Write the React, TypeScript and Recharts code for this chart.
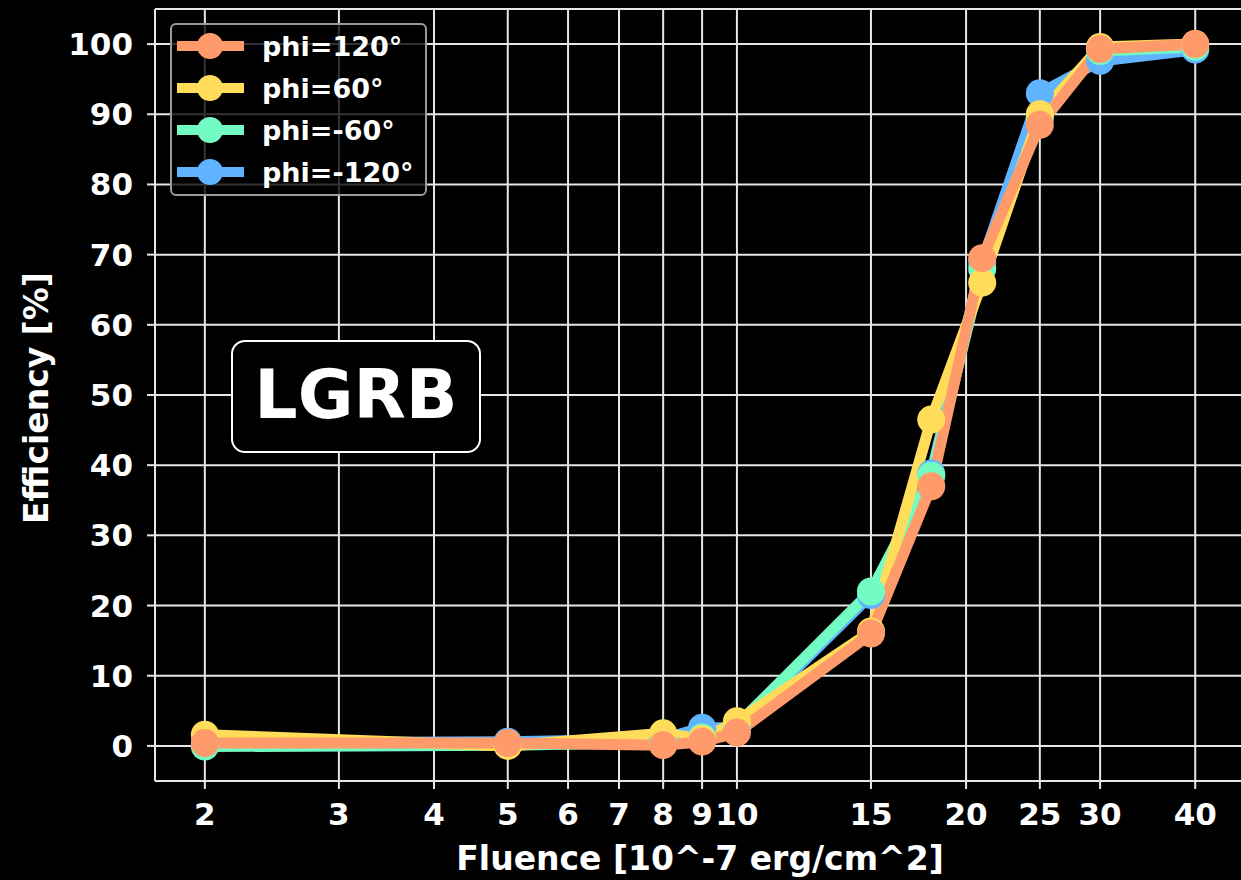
import React from 'react';
import {
  LineChart,
  Line,
  XAxis,
  YAxis,
  CartesianGrid,
  ReferenceLine
} from 'recharts';

// Fluence values (10^-7 erg/cm^2) and efficiency (%) per phi angle
const fluence = [2, 5, 8, 9, 10, 15, 18, 21, 25, 30, 40];
const phi120 = [0.4, 0.4, 0.1, 0.6, 1.9, 16.0, 37.0, 69.5, 88.5, 99.3, 100];
const phi60 = [1.6, 0.0, 1.8, 1.0, 3.5, 16.3, 46.5, 66.0, 90.0, 99.6, 100];
const phiM60 = [-0.1, 0.1, 0.5, 1.2, 3.0, 22.0, 38.5, 68.0, 89.5, 99.0, 99.6];
const phiM120 = [0.4, 0.6, 1.0, 2.6, 2.6, 21.5, 38.8, 69.0, 93.0, 97.6, 99.2];

const xTicks = [2, 3, 4, 5, 6, 7, 8, 9, 10, 15, 20, 25, 30, 40];
const yTicks = [0, 10, 20, 30, 40, 50, 60, 70, 80, 90, 100];

const XMIN = 1.72;
const XMAX = 46.5;

const FONT = "'DejaVu Sans', sans-serif";
const GRID = '#e6e6e6';

// legend order = plot order; drawn in reverse so orange lands on top
const SERIES = [
  { key: 'phi120', name: 'phi=120°', color: '#ff9a6a' },
  { key: 'phi60', name: 'phi=60°', color: '#ffdc5a' },
  { key: 'phiM60', name: 'phi=-60°', color: '#72fbc2' },
  { key: 'phiM120', name: 'phi=-120°', color: '#60b4ff' }
];

const data = fluence.map((f, i) => ({
  fluence: f,
  phi120: phi120[i],
  phi60: phi60[i],
  phiM60: phiM60[i],
  phiM120: phiM120[i]
}));

const tickStyle = { fill: '#fff', fontSize: 31, fontWeight: 'bold', fontFamily: FONT };

const XLabel = (props: any) => {
  const { viewBox } = props;
  return (
    <text
      x={viewBox.x + viewBox.width / 2}
      y={870}
      textAnchor="middle"
      fill="#fff"
      fontSize={33}
      fontWeight="bold"
      fontFamily={FONT}
    >
      Fluence [10^-7 erg/cm^2]
    </text>
  );
};

const YLabel = () => (
  <text
    x={48}
    y={398}
    transform="rotate(-90, 48, 398)"
    textAnchor="middle"
    fill="#fff"
    fontSize={33}
    fontWeight="bold"
    fontFamily={FONT}
  >
    Efficiency [%]
  </text>
);

const LegendBox = () => (
  <div
    style={{
      position: 'absolute',
      left: 170,
      top: 23,
      width: 253,
      height: 169,
      border: '2px solid #9a9a9a',
      borderRadius: 6,
      background: 'rgba(0,0,0,0.78)',
      fontFamily: FONT
    }}
  >
    {SERIES.map((s, i) => (
      <div
        key={s.key}
        style={{ position: 'absolute', left: 3, top: 4 + i * 42, height: 34, display: 'flex', alignItems: 'center' }}
      >
        <svg width={70} height={34}>
          <line x1={2} y1={17} x2={69} y2={17} stroke={s.color} strokeWidth={10} />
          <circle cx={35} cy={17} r={13} fill={s.color} />
        </svg>
        <span style={{ marginLeft: 17, color: '#fff', fontSize: 27, fontWeight: 'bold', whiteSpace: 'nowrap' }}>
          {s.name}
        </span>
      </div>
    ))}
  </div>
);

const TagBox = () => (
  <div
    style={{
      position: 'absolute',
      left: 231,
      top: 340,
      width: 246,
      height: 105,
      border: '2px solid #fff',
      borderRadius: 14,
      background: '#000',
      color: '#fff',
      fontFamily: FONT,
      fontWeight: 'bold',
      fontSize: 68,
      display: 'flex',
      alignItems: 'center',
      justifyContent: 'center',
      paddingBottom: 4,
      boxSizing: 'content-box'
    }}
  >
    LGRB
  </div>
);

export default function App() {
  return (
    <div
      style={{
        position: 'absolute',
        left: 0,
        top: 0,
        width: 1241,
        height: 880,
        background: '#000',
        overflow: 'hidden'
      }}
    >
      <LineChart width={1250} height={880} data={data} margin={{ top: 9, right: 5, bottom: 0, left: 0 }}>
        <CartesianGrid stroke={GRID} strokeWidth={2} />
        <XAxis
          dataKey="fluence"
          type="number"
          scale="log"
          domain={[XMIN, XMAX]}
          allowDataOverflow
          ticks={xTicks}
          interval={0}
          height={99}
          tick={tickStyle}
          tickSize={8}
          tickMargin={14}
          tickLine={{ stroke: GRID, strokeWidth: 2 }}
          axisLine={{ stroke: GRID, strokeWidth: 2 }}
          label={<XLabel />}
        />
        <YAxis
          type="number"
          domain={[-5, 105]}
          ticks={yTicks}
          interval={0}
          width={155}
          tick={tickStyle}
          tickSize={8}
          tickMargin={14}
          tickLine={{ stroke: GRID, strokeWidth: 2 }}
          axisLine={{ stroke: GRID, strokeWidth: 2 }}
          label={<YLabel />}
        />
        <ReferenceLine y={105} stroke={GRID} strokeWidth={2} />
        {[...SERIES].reverse().map((s) => (
          <Line
            key={s.key}
            dataKey={s.key}
            name={s.name}
            type="linear"
            stroke={s.color}
            strokeWidth={11}
            dot={{ r: 14, fill: s.color, stroke: 'none' }}
            activeDot={false}
            isAnimationActive={false}
          />
        ))}
      </LineChart>
      <LegendBox />
      <TagBox />
    </div>
  );
}
